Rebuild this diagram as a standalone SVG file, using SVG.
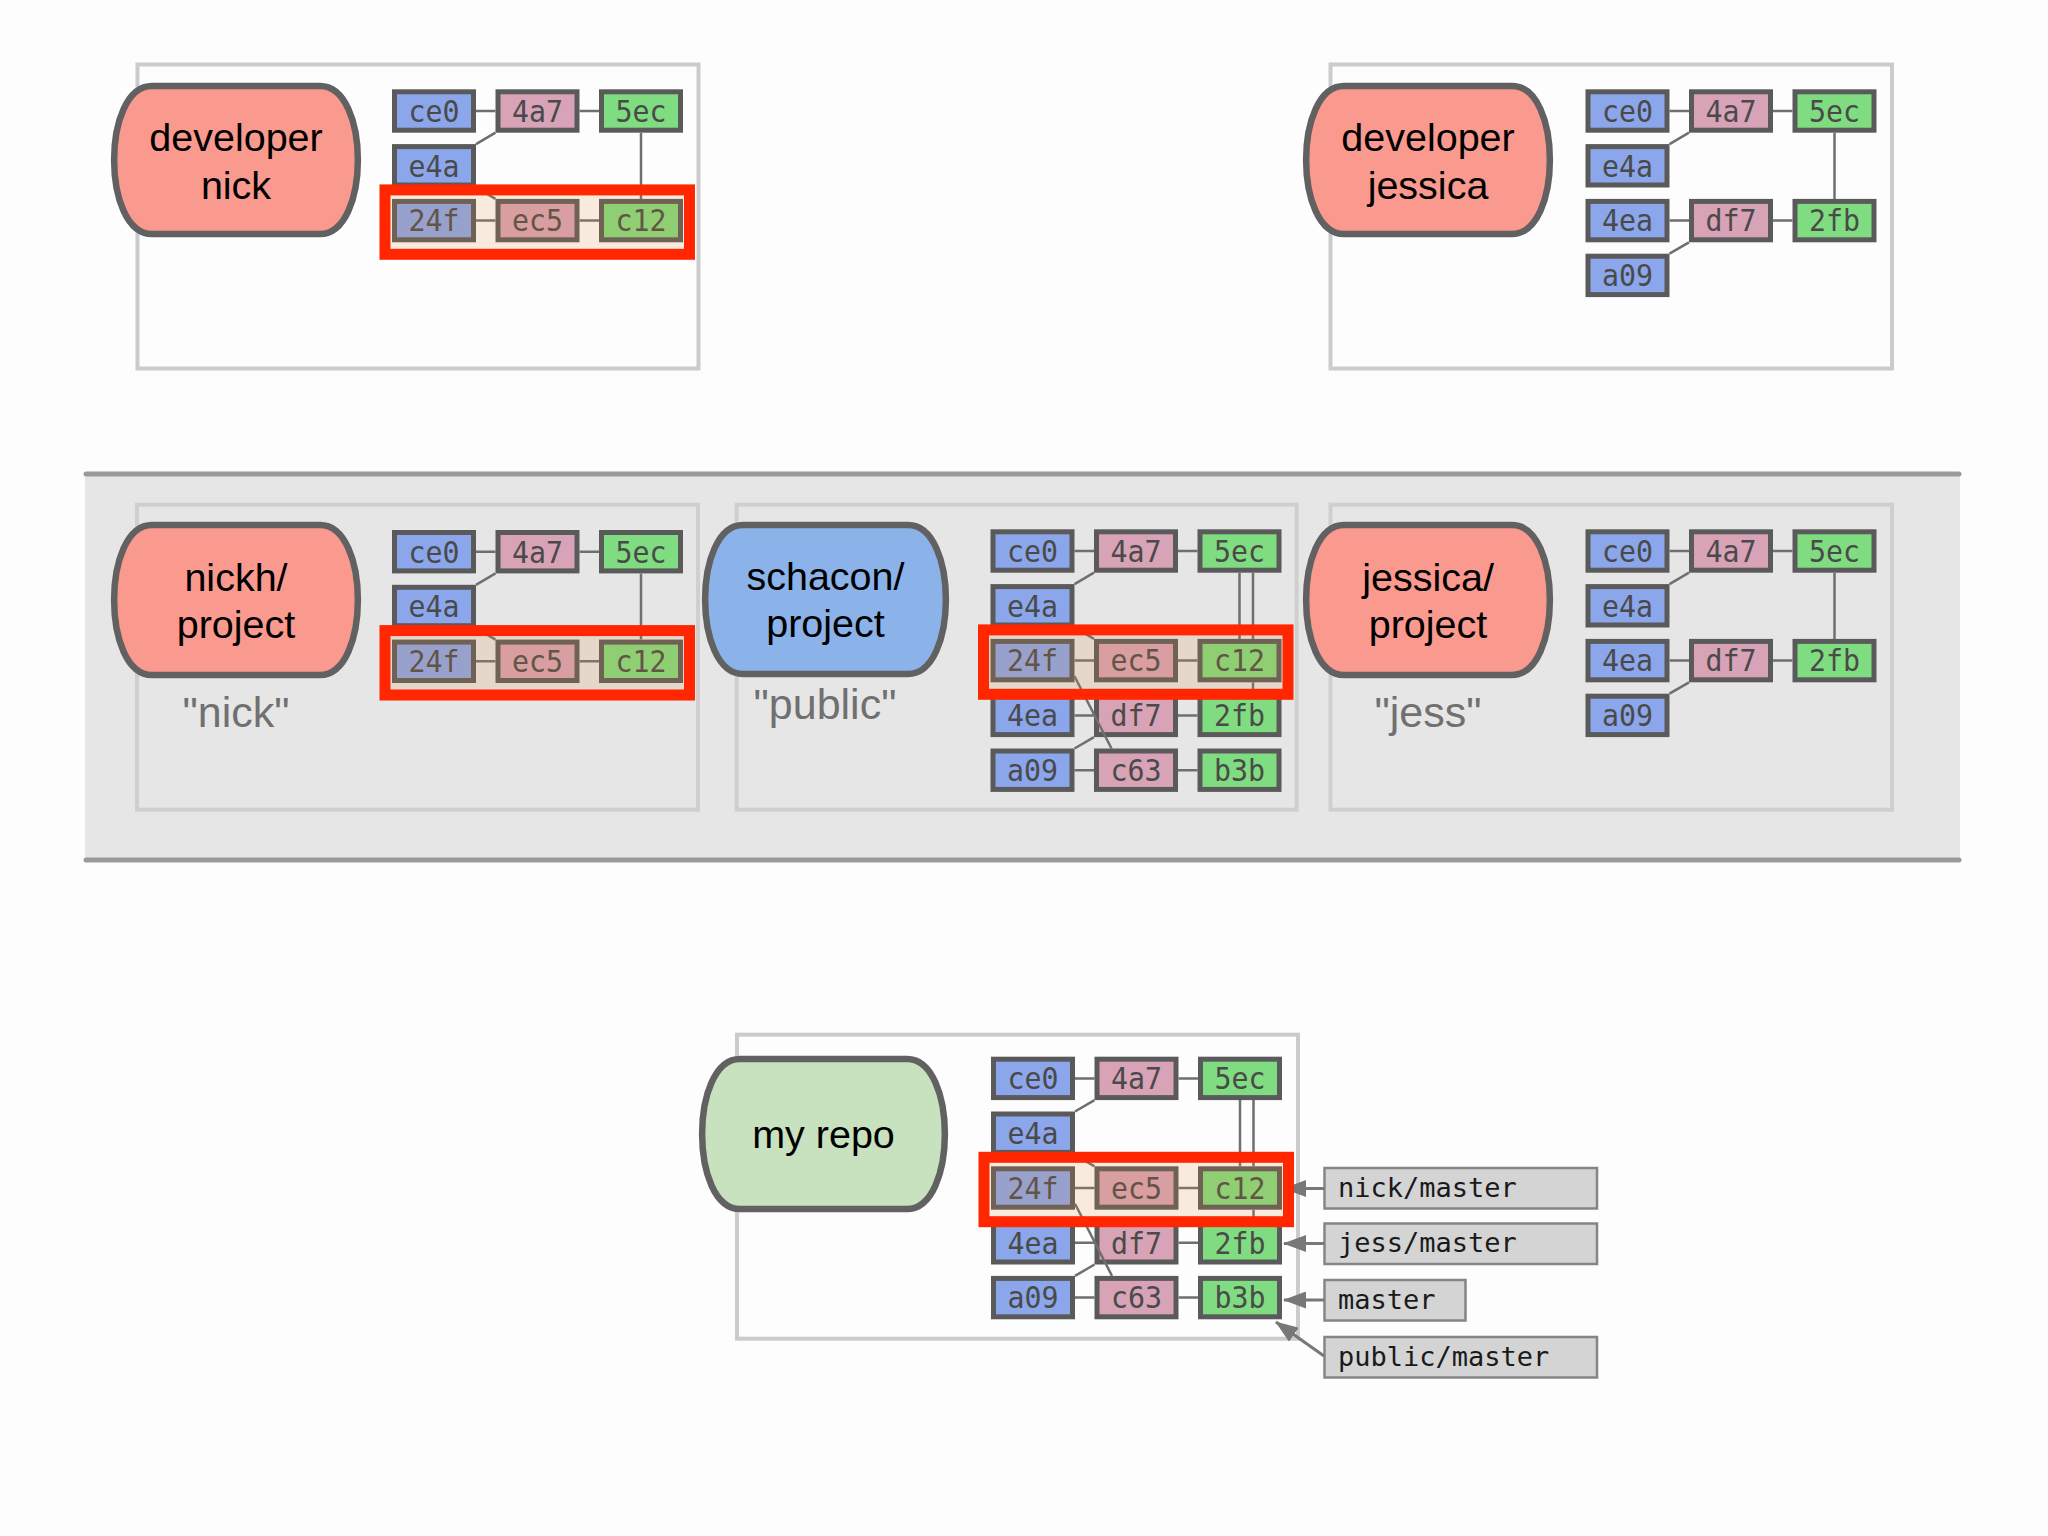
<svg xmlns="http://www.w3.org/2000/svg" width="2048" height="1536" viewBox="0 0 2048 1536">
<style>
.repo{fill:none;stroke:#cbcbcb;stroke-width:4}
.repo2{fill:none;stroke:#cfcfcf;stroke-width:4}
.pill{stroke:#616161;stroke-width:6.5}
.red{fill:#fa9a8f}.blu{fill:#8bb3ea}.grn{fill:#c8e1be}
.pt{font-family:'Liberation Sans',Arial,sans-serif;font-size:39.5px;fill:#000;text-anchor:middle}
.qt{font-family:'Liberation Sans',Arial,sans-serif;font-size:43px;fill:#707070;text-anchor:middle}
.c rect{stroke:#5a5a5a;stroke-width:5}
.c text{font-family:'DejaVu Sans Mono',monospace;font-size:30px;fill:#4a4a4a;text-anchor:middle}
.b{fill:#8ba6ea}.p{fill:#d8a3b7}.g{fill:#80dc80}
.ln{fill:none;stroke:#6f6f6f;stroke-width:2.5}
.hl{fill:#e08a30;fill-opacity:0.16;stroke:#ff2600;stroke-width:11}
.lb{fill:#d4d4d4;stroke:#858585;stroke-width:2.5}
.lt{font-family:'DejaVu Sans Mono',monospace;font-size:27px;fill:#1a1a1a}
.ar{fill:none;stroke:#787878;stroke-width:3}
</style>
<defs>
<marker id="ah" markerUnits="userSpaceOnUse" viewBox="0 0 23 17" markerWidth="23" markerHeight="17" refX="22" refY="8.5" orient="auto">
<path d="M0,0 L23,8.5 L0,17 z" fill="#787878"/>
</marker>
</defs>
<rect width="2048" height="1536" fill="#fdfdfd"/>

<g id="band">
<rect x="85" y="476" width="1875" height="384" fill="#e6e6e7"/>
<line x1="86" y1="474" x2="1959" y2="474" stroke="#9a9a9a" stroke-width="5" stroke-linecap="round"/>
<line x1="86" y1="860" x2="1959" y2="860" stroke="#9a9a9a" stroke-width="5" stroke-linecap="round"/>
</g>

<g id="boxes">
<rect class="repo" x="137.5" y="64.5" width="561" height="304"/>
<rect class="repo" x="1330.5" y="64.5" width="561.5" height="304"/>
<rect class="repo2" x="137" y="504.7" width="561" height="305"/>
<rect class="repo2" x="736.7" y="504.7" width="560" height="305"/>
<rect class="repo2" x="1330.5" y="504.7" width="561.5" height="305"/>
<rect class="repo" x="737" y="1034.7" width="561" height="304"/>
</g>

<g id="dev-nick">
<path class="pill red" d="M152,86 H320 C370.5,86 370.5,234 320,234 H152 C101.5,234 101.5,86 152,86 Z"/>
<text class="pt" x="236" y="150.5">developer</text>
<text class="pt" x="236" y="198.5">nick</text>
</g>
<g id="dev-jessica">
<path class="pill red" d="M1344,86 H1512 C1562.5,86 1562.5,234 1512,234 H1344 C1293.5,234 1293.5,86 1344,86 Z"/>
<text class="pt" x="1428" y="150.5">developer</text>
<text class="pt" x="1428" y="198.5">jessica</text>
</g>
<g id="nickh-project">
<path class="pill red" d="M152,525 H320 C370.5,525 370.5,675 320,675 H152 C101.5,675 101.5,525 152,525 Z"/>
<text class="pt" x="236" y="591">nickh/</text>
<text class="pt" x="236" y="638">project</text>
<text class="qt" x="236" y="727">&quot;nick&quot;</text>
</g>
<g id="schacon-project">
<path class="pill blu" d="M743,525 H908 C958.5,525 958.5,674 908,674 H743 C692.5,674 692.5,525 743,525 Z"/>
<text class="pt" x="825.5" y="590">schacon/</text>
<text class="pt" x="825.5" y="637">project</text>
<text class="qt" x="825" y="719">&quot;public&quot;</text>
</g>
<g id="jessica-project">
<path class="pill red" d="M1344,525 H1512 C1562.5,525 1562.5,675 1512,675 H1344 C1293.5,675 1293.5,525 1344,525 Z"/>
<text class="pt" x="1428" y="591">jessica/</text>
<text class="pt" x="1428" y="638">project</text>
<text class="qt" x="1428" y="727">&quot;jess&quot;</text>
</g>
<g id="my-repo">
<path class="pill grn" d="M740,1059 H907 C957.5,1059 957.5,1209 907,1209 H740 C689.5,1209 689.5,1059 740,1059 Z"/>
<text class="pt" x="823.5" y="1148">my repo</text>
</g>

<g transform="translate(392,89.3)">
<g id="a-ce0" class="c"><rect class="b" x="2.5" y="2.5" width="79" height="38.4"/><text x="42" y="32.5" textLength="51" lengthAdjust="spacingAndGlyphs">ce0</text></g>
<g id="a-4a7" class="c" transform="translate(103.5,0)"><rect class="p" x="2.5" y="2.5" width="79" height="38.4"/><text x="42" y="32.5" textLength="51" lengthAdjust="spacingAndGlyphs">4a7</text></g>
<g id="a-5ec" class="c" transform="translate(207,0)"><rect class="g" x="2.5" y="2.5" width="79" height="38.4"/><text x="42" y="32.5" textLength="51" lengthAdjust="spacingAndGlyphs">5ec</text></g>
<g id="a-e4a" class="c" transform="translate(0,54.8)"><rect class="b" x="2.5" y="2.5" width="79" height="38.4"/><text x="42" y="32.5" textLength="51" lengthAdjust="spacingAndGlyphs">e4a</text></g>
<g id="a-24f" class="c" transform="translate(0,109.6)"><rect class="b" x="2.5" y="2.5" width="79" height="38.4"/><text x="42" y="32.5" textLength="51" lengthAdjust="spacingAndGlyphs">24f</text></g>
<g id="a-ec5" class="c" transform="translate(103.5,109.6)"><rect class="p" x="2.5" y="2.5" width="79" height="38.4"/><text x="42" y="32.5" textLength="51" lengthAdjust="spacingAndGlyphs">ec5</text></g>
<g id="a-c12" class="c" transform="translate(207,109.6)"><rect class="g" x="2.5" y="2.5" width="79" height="38.4"/><text x="42" y="32.5" textLength="51" lengthAdjust="spacingAndGlyphs">c12</text></g>
</g>
<g transform="translate(1585.5,89.3)">
<g id="b-ce0" class="c"><rect class="b" x="2.5" y="2.5" width="79" height="38.4"/><text x="42" y="32.5" textLength="51" lengthAdjust="spacingAndGlyphs">ce0</text></g>
<g id="b-4a7" class="c" transform="translate(103.5,0)"><rect class="p" x="2.5" y="2.5" width="79" height="38.4"/><text x="42" y="32.5" textLength="51" lengthAdjust="spacingAndGlyphs">4a7</text></g>
<g id="b-5ec" class="c" transform="translate(207,0)"><rect class="g" x="2.5" y="2.5" width="79" height="38.4"/><text x="42" y="32.5" textLength="51" lengthAdjust="spacingAndGlyphs">5ec</text></g>
<g id="b-e4a" class="c" transform="translate(0,54.8)"><rect class="b" x="2.5" y="2.5" width="79" height="38.4"/><text x="42" y="32.5" textLength="51" lengthAdjust="spacingAndGlyphs">e4a</text></g>
<g id="b-4ea" class="c" transform="translate(0,109.6)"><rect class="b" x="2.5" y="2.5" width="79" height="38.4"/><text x="42" y="32.5" textLength="51" lengthAdjust="spacingAndGlyphs">4ea</text></g>
<g id="b-df7" class="c" transform="translate(103.5,109.6)"><rect class="p" x="2.5" y="2.5" width="79" height="38.4"/><text x="42" y="32.5" textLength="51" lengthAdjust="spacingAndGlyphs">df7</text></g>
<g id="b-2fb" class="c" transform="translate(207,109.6)"><rect class="g" x="2.5" y="2.5" width="79" height="38.4"/><text x="42" y="32.5" textLength="51" lengthAdjust="spacingAndGlyphs">2fb</text></g>
<g id="b-a09" class="c" transform="translate(0,164.4)"><rect class="b" x="2.5" y="2.5" width="79" height="38.4"/><text x="42" y="32.5" textLength="51" lengthAdjust="spacingAndGlyphs">a09</text></g>
</g>
<g transform="translate(392,530)">
<g id="c-ce0" class="c"><rect class="b" x="2.5" y="2.5" width="79" height="38.4"/><text x="42" y="32.5" textLength="51" lengthAdjust="spacingAndGlyphs">ce0</text></g>
<g id="c-4a7" class="c" transform="translate(103.5,0)"><rect class="p" x="2.5" y="2.5" width="79" height="38.4"/><text x="42" y="32.5" textLength="51" lengthAdjust="spacingAndGlyphs">4a7</text></g>
<g id="c-5ec" class="c" transform="translate(207,0)"><rect class="g" x="2.5" y="2.5" width="79" height="38.4"/><text x="42" y="32.5" textLength="51" lengthAdjust="spacingAndGlyphs">5ec</text></g>
<g id="c-e4a" class="c" transform="translate(0,54.8)"><rect class="b" x="2.5" y="2.5" width="79" height="38.4"/><text x="42" y="32.5" textLength="51" lengthAdjust="spacingAndGlyphs">e4a</text></g>
<g id="c-24f" class="c" transform="translate(0,109.6)"><rect class="b" x="2.5" y="2.5" width="79" height="38.4"/><text x="42" y="32.5" textLength="51" lengthAdjust="spacingAndGlyphs">24f</text></g>
<g id="c-ec5" class="c" transform="translate(103.5,109.6)"><rect class="p" x="2.5" y="2.5" width="79" height="38.4"/><text x="42" y="32.5" textLength="51" lengthAdjust="spacingAndGlyphs">ec5</text></g>
<g id="c-c12" class="c" transform="translate(207,109.6)"><rect class="g" x="2.5" y="2.5" width="79" height="38.4"/><text x="42" y="32.5" textLength="51" lengthAdjust="spacingAndGlyphs">c12</text></g>
</g>
<g transform="translate(990.5,529.3)">
<g id="d-ce0" class="c"><rect class="b" x="2.5" y="2.5" width="79" height="38.4"/><text x="42" y="32.5" textLength="51" lengthAdjust="spacingAndGlyphs">ce0</text></g>
<g id="d-4a7" class="c" transform="translate(103.5,0)"><rect class="p" x="2.5" y="2.5" width="79" height="38.4"/><text x="42" y="32.5" textLength="51" lengthAdjust="spacingAndGlyphs">4a7</text></g>
<g id="d-5ec" class="c" transform="translate(207,0)"><rect class="g" x="2.5" y="2.5" width="79" height="38.4"/><text x="42" y="32.5" textLength="51" lengthAdjust="spacingAndGlyphs">5ec</text></g>
<g id="d-e4a" class="c" transform="translate(0,54.8)"><rect class="b" x="2.5" y="2.5" width="79" height="38.4"/><text x="42" y="32.5" textLength="51" lengthAdjust="spacingAndGlyphs">e4a</text></g>
<g id="d-24f" class="c" transform="translate(0,109.6)"><rect class="b" x="2.5" y="2.5" width="79" height="38.4"/><text x="42" y="32.5" textLength="51" lengthAdjust="spacingAndGlyphs">24f</text></g>
<g id="d-ec5" class="c" transform="translate(103.5,109.6)"><rect class="p" x="2.5" y="2.5" width="79" height="38.4"/><text x="42" y="32.5" textLength="51" lengthAdjust="spacingAndGlyphs">ec5</text></g>
<g id="d-c12" class="c" transform="translate(207,109.6)"><rect class="g" x="2.5" y="2.5" width="79" height="38.4"/><text x="42" y="32.5" textLength="51" lengthAdjust="spacingAndGlyphs">c12</text></g>
<g id="d-4ea" class="c" transform="translate(0,164.4)"><rect class="b" x="2.5" y="2.5" width="79" height="38.4"/><text x="42" y="32.5" textLength="51" lengthAdjust="spacingAndGlyphs">4ea</text></g>
<g id="d-df7" class="c" transform="translate(103.5,164.4)"><rect class="p" x="2.5" y="2.5" width="79" height="38.4"/><text x="42" y="32.5" textLength="51" lengthAdjust="spacingAndGlyphs">df7</text></g>
<g id="d-2fb" class="c" transform="translate(207,164.4)"><rect class="g" x="2.5" y="2.5" width="79" height="38.4"/><text x="42" y="32.5" textLength="51" lengthAdjust="spacingAndGlyphs">2fb</text></g>
<g id="d-a09" class="c" transform="translate(0,219.2)"><rect class="b" x="2.5" y="2.5" width="79" height="38.4"/><text x="42" y="32.5" textLength="51" lengthAdjust="spacingAndGlyphs">a09</text></g>
<g id="d-c63" class="c" transform="translate(103.5,219.2)"><rect class="p" x="2.5" y="2.5" width="79" height="38.4"/><text x="42" y="32.5" textLength="51" lengthAdjust="spacingAndGlyphs">c63</text></g>
<g id="d-b3b" class="c" transform="translate(207,219.2)"><rect class="g" x="2.5" y="2.5" width="79" height="38.4"/><text x="42" y="32.5" textLength="51" lengthAdjust="spacingAndGlyphs">b3b</text></g>
</g>
<g transform="translate(1585.5,529.3)">
<g id="e-ce0" class="c"><rect class="b" x="2.5" y="2.5" width="79" height="38.4"/><text x="42" y="32.5" textLength="51" lengthAdjust="spacingAndGlyphs">ce0</text></g>
<g id="e-4a7" class="c" transform="translate(103.5,0)"><rect class="p" x="2.5" y="2.5" width="79" height="38.4"/><text x="42" y="32.5" textLength="51" lengthAdjust="spacingAndGlyphs">4a7</text></g>
<g id="e-5ec" class="c" transform="translate(207,0)"><rect class="g" x="2.5" y="2.5" width="79" height="38.4"/><text x="42" y="32.5" textLength="51" lengthAdjust="spacingAndGlyphs">5ec</text></g>
<g id="e-e4a" class="c" transform="translate(0,54.8)"><rect class="b" x="2.5" y="2.5" width="79" height="38.4"/><text x="42" y="32.5" textLength="51" lengthAdjust="spacingAndGlyphs">e4a</text></g>
<g id="e-4ea" class="c" transform="translate(0,109.6)"><rect class="b" x="2.5" y="2.5" width="79" height="38.4"/><text x="42" y="32.5" textLength="51" lengthAdjust="spacingAndGlyphs">4ea</text></g>
<g id="e-df7" class="c" transform="translate(103.5,109.6)"><rect class="p" x="2.5" y="2.5" width="79" height="38.4"/><text x="42" y="32.5" textLength="51" lengthAdjust="spacingAndGlyphs">df7</text></g>
<g id="e-2fb" class="c" transform="translate(207,109.6)"><rect class="g" x="2.5" y="2.5" width="79" height="38.4"/><text x="42" y="32.5" textLength="51" lengthAdjust="spacingAndGlyphs">2fb</text></g>
<g id="e-a09" class="c" transform="translate(0,164.4)"><rect class="b" x="2.5" y="2.5" width="79" height="38.4"/><text x="42" y="32.5" textLength="51" lengthAdjust="spacingAndGlyphs">a09</text></g>
</g>
<g transform="translate(991,1056.7)">
<g id="f-ce0" class="c"><rect class="b" x="2.5" y="2.5" width="79" height="38.4"/><text x="42" y="32.5" textLength="51" lengthAdjust="spacingAndGlyphs">ce0</text></g>
<g id="f-4a7" class="c" transform="translate(103.5,0)"><rect class="p" x="2.5" y="2.5" width="79" height="38.4"/><text x="42" y="32.5" textLength="51" lengthAdjust="spacingAndGlyphs">4a7</text></g>
<g id="f-5ec" class="c" transform="translate(207,0)"><rect class="g" x="2.5" y="2.5" width="79" height="38.4"/><text x="42" y="32.5" textLength="51" lengthAdjust="spacingAndGlyphs">5ec</text></g>
<g id="f-e4a" class="c" transform="translate(0,54.8)"><rect class="b" x="2.5" y="2.5" width="79" height="38.4"/><text x="42" y="32.5" textLength="51" lengthAdjust="spacingAndGlyphs">e4a</text></g>
<g id="f-24f" class="c" transform="translate(0,109.6)"><rect class="b" x="2.5" y="2.5" width="79" height="38.4"/><text x="42" y="32.5" textLength="51" lengthAdjust="spacingAndGlyphs">24f</text></g>
<g id="f-ec5" class="c" transform="translate(103.5,109.6)"><rect class="p" x="2.5" y="2.5" width="79" height="38.4"/><text x="42" y="32.5" textLength="51" lengthAdjust="spacingAndGlyphs">ec5</text></g>
<g id="f-c12" class="c" transform="translate(207,109.6)"><rect class="g" x="2.5" y="2.5" width="79" height="38.4"/><text x="42" y="32.5" textLength="51" lengthAdjust="spacingAndGlyphs">c12</text></g>
<g id="f-4ea" class="c" transform="translate(0,164.4)"><rect class="b" x="2.5" y="2.5" width="79" height="38.4"/><text x="42" y="32.5" textLength="51" lengthAdjust="spacingAndGlyphs">4ea</text></g>
<g id="f-df7" class="c" transform="translate(103.5,164.4)"><rect class="p" x="2.5" y="2.5" width="79" height="38.4"/><text x="42" y="32.5" textLength="51" lengthAdjust="spacingAndGlyphs">df7</text></g>
<g id="f-2fb" class="c" transform="translate(207,164.4)"><rect class="g" x="2.5" y="2.5" width="79" height="38.4"/><text x="42" y="32.5" textLength="51" lengthAdjust="spacingAndGlyphs">2fb</text></g>
<g id="f-a09" class="c" transform="translate(0,219.2)"><rect class="b" x="2.5" y="2.5" width="79" height="38.4"/><text x="42" y="32.5" textLength="51" lengthAdjust="spacingAndGlyphs">a09</text></g>
<g id="f-c63" class="c" transform="translate(103.5,219.2)"><rect class="p" x="2.5" y="2.5" width="79" height="38.4"/><text x="42" y="32.5" textLength="51" lengthAdjust="spacingAndGlyphs">c63</text></g>
<g id="f-b3b" class="c" transform="translate(207,219.2)"><rect class="g" x="2.5" y="2.5" width="79" height="38.4"/><text x="42" y="32.5" textLength="51" lengthAdjust="spacingAndGlyphs">b3b</text></g>
</g>

<g id="connectors" class="ln">
<path transform="translate(392,89.3)" d="M84,21.7 H103.5 M187.5,21.7 H207 M84,54.8 L103.5,43.4 M84,98.2 L103.5,109.6 M84,131.3 H103.5 M187.5,131.3 H207 M249,43.4 V109.6"/>
<path transform="translate(1585.5,89.3)" d="M84,21.7 H103.5 M187.5,21.7 H207 M84,54.8 L103.5,43.4 M249,43.4 V109.6 M84,131.3 H103.5 M187.5,131.3 H207 M84,164.4 L103.5,153"/>
<path transform="translate(392,530)" d="M84,21.7 H103.5 M187.5,21.7 H207 M84,54.8 L103.5,43.4 M84,98.2 L103.5,109.6 M84,131.3 H103.5 M187.5,131.3 H207 M249,43.4 V109.6"/>
<path transform="translate(990.5,529.3)" d="M84,21.7 H103.5 M187.5,21.7 H207 M84,54.8 L103.5,43.4 M84,98.2 L103.5,109.6 M84,131.3 H103.5 M187.5,131.3 H207 M249,43.4 V109.6 M262.5,43.4 V109.6 M262.5,153 V164.4 M84,186.1 H103.5 M187.5,186.1 H207 M84,219.2 L103.5,207.8 M84,240.9 H103.5 M187.5,240.9 H207 M84,147 L121,219.2"/>
<path transform="translate(1585.5,529.3)" d="M84,21.7 H103.5 M187.5,21.7 H207 M84,54.8 L103.5,43.4 M249,43.4 V109.6 M84,131.3 H103.5 M187.5,131.3 H207 M84,164.4 L103.5,153"/>
<path transform="translate(991,1056.7)" d="M84,21.7 H103.5 M187.5,21.7 H207 M84,54.8 L103.5,43.4 M84,98.2 L103.5,109.6 M84,131.3 H103.5 M187.5,131.3 H207 M249,43.4 V109.6 M262.5,43.4 V109.6 M262.5,153 V164.4 M84,186.1 H103.5 M187.5,186.1 H207 M84,219.2 L103.5,207.8 M84,240.9 H103.5 M187.5,240.9 H207 M84,147 L121,219.2"/>
</g>

<g id="lbl-nick-master">
<rect class="lb" x="1324.5" y="1168" width="272.5" height="40.5"/>
<text class="lt" x="1338" y="1196.5">nick/master</text>
</g>
<g id="lbl-jess-master">
<rect class="lb" x="1324.5" y="1223.5" width="272.5" height="40.5"/>
<text class="lt" x="1338" y="1252">jess/master</text>
</g>
<g id="lbl-master">
<rect class="lb" x="1324.5" y="1280" width="141" height="40.5"/>
<text class="lt" x="1338" y="1308.5">master</text>
</g>
<g id="lbl-public-master">
<rect class="lb" x="1324.5" y="1337" width="272.5" height="40.5"/>
<text class="lt" x="1338" y="1365.5">public/master</text>
</g>
<g id="label-arrows" class="ar">
<path d="M1324,1188.5 H1284" marker-end="url(#ah)"/>
<path d="M1324,1243.5 H1284" marker-end="url(#ah)"/>
<path d="M1324,1300 H1284" marker-end="url(#ah)"/>
<path d="M1324,1356 L1276,1322" marker-end="url(#ah)"/>
</g>

<g id="highlights">
<rect class="hl" x="385" y="189.9" width="304.5" height="64.4"/>
<rect class="hl" x="385" y="630.6" width="304.5" height="64.4"/>
<rect class="hl" x="983.5" y="629.9" width="304.5" height="64.4"/>
<rect class="hl" x="984" y="1157.3" width="304.5" height="64.4"/>
</g>
</svg>
